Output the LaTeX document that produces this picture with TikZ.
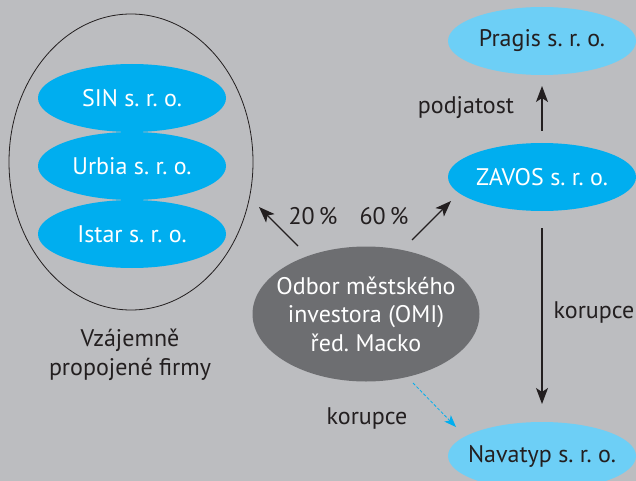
\documentclass[tikz,border=0pt]{standalone}
\usepackage{fontspec}
\setmainfont{PT Sans}
\usetikzlibrary{shapes.geometric,arrows.meta}
\definecolor{bg}{HTML}{BCBDC0}
\definecolor{cyanA}{HTML}{00AEEF}
\definecolor{cyanL}{HTML}{6DCFF6}
\definecolor{omi}{HTML}{6D6E71}
\definecolor{txt}{HTML}{231F20}
\begin{document}
\frenchspacing
\begin{tikzpicture}[x=1pt,y=-1pt,
  firm/.style={ellipse,fill=cyanA,minimum width=188pt,minimum height=68pt,inner sep=0pt},
  firml/.style={firm,fill=cyanL},
  wtext/.style={text=white,inner sep=0pt,font=\fontsize{24}{26}\selectfont},
  dtext/.style={text=txt,inner sep=0pt,font=\fontsize{24}{26}\selectfont},
  lbl/.style={text=txt,font=\fontsize{24}{26}\selectfont,inner sep=0pt},
  arr/.style={draw=txt,line width=1.1pt,-{Stealth[length=16pt,width=12pt,inset=4pt]}},
  darr/.style={draw=cyanA,line width=0.8pt,dash pattern=on 3pt off 2pt,-{Stealth[length=12pt,width=9pt,inset=3pt]}}]
\useasboundingbox (0,0) rectangle (636,481);
\clip (0,0) rectangle (636,481);
\fill[bg] (0,0) rectangle (636,481);
\node[ellipse,draw=txt,line width=0.8pt,minimum width=244pt,minimum height=296pt,inner sep=0pt] (group) at (131,162) {};
\node[firm] (sin) at (132,98) {};
\node[wtext] (sint) at (sin) {SIN s. r. o.};
\node[firm] (urbia) at (132,166) {};
\node[wtext] (urbiat) at (urbia) {Urbia s. r. o.};
\node[firm] (istar) at (132,234) {};
\node[wtext] (istart) at (istar) {Istar s. r. o.};
\node[lbl,align=center,font=\fontsize{24}{29}\selectfont] (cap) at (130,355) {Vzájemně\\propojené firmy};
\node[ellipse,fill=omi,minimum width=227pt,minimum height=135pt,inner sep=0pt] (omi) at (366,314) {};
\node[wtext,align=center,font=\fontsize{24}{28.5}\selectfont] (omit) at (omi) {Odbor městského\\investora (OMI)\\řed. Macko};
\node[firm] (zavos) at (542,177) {};
\node[wtext] (zavost) at (zavos) {ZAVOS s. r. o.};
\node[firml] (pragis) at (542,41) {};
\node[dtext] (pragist) at (pragis) {Pragis s. r. o.};
\node[firml] (navatyp) at (542,456) {};
\node[dtext] (navatypt) at (navatyp) {Navatyp s. r. o.};
\coordinate (a1s) at (298,246); \coordinate (a1e) at (259,207);
\coordinate (a2s) at (412,240); \coordinate (a2e) at (451,201);
\coordinate (p1) at (542,131); \coordinate (p2) at (542,86);
\coordinate (k1) at (542,228); \coordinate (k2) at (542,404);
\coordinate (d1) at (413,383); \coordinate (d2) at (456,427);
\draw[arr] (a1s) -- (a1e);
\draw[arr] (a2s) -- (a2e);
\draw[arr] (p1) -- (p2);
\draw[arr] (k1) -- (k2);
\draw[darr] (d1) -- (d2);
\node[lbl] (l20) at (313,216) {20\,\%};
\node[lbl] (l60) at (384,216) {60\,\%};
\node[lbl] (lpod) at (466,108) {podjatost};
\node[lbl] (lkor1) at (594,312) {korupce};
\node[lbl] (lkor2) at (367,418) {korupce};
\end{tikzpicture}
\end{document}
